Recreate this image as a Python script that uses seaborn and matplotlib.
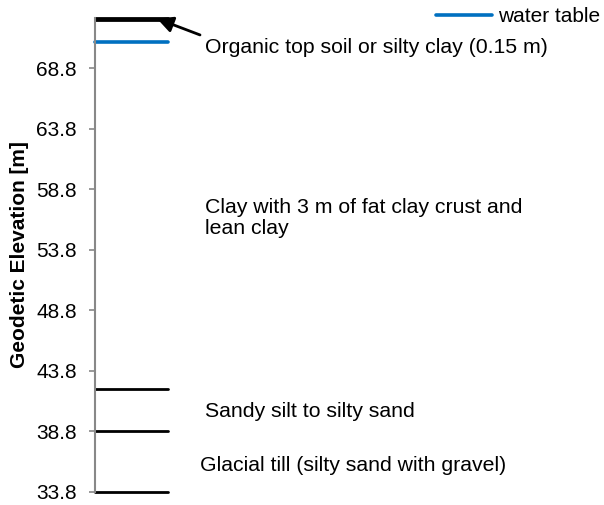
import pandas as pd
import seaborn as sns
from matplotlib import pyplot as plt

# layer boundaries [m]
boundary_names = ['ground surface', 'base of top soil', 'top of sandy silt', 'top of glacial till', 'bottom']
boundary_elev = [72.95, 72.8, 42.3, 38.8, 33.8]
water_table_elev = 70.95

# layer descriptions and the elevation where each label sits
layer_labels = [
    'Organic top soil or silty clay (0.15 m)',
    'Clay with 3 m of fat clay crust and\nlean clay',
    'Sandy silt to silty sand',
    'Glacial till (silty sand with gravel)',
]
label_elev = [70.5, 56.4, 40.4, 36.0]

ytick_values = [33.8, 38.8, 43.8, 48.8, 53.8, 58.8, 63.8, 68.8]


def make_lines(names, elevs, x0=0.0, x1=0.146):
    """Long-form table: two end points per horizontal boundary line."""
    rows = []
    for name, z in zip(names, elevs):
        rows.append({'name': name, 'x': x0, 'z': z})
        rows.append({'name': name, 'x': x1, 'z': z})
    return pd.DataFrame(rows)


def profile_plot():
    sns.set_style('white')
    plt.rcParams['font.family'] = ['Liberation Sans', 'DejaVu Sans']
    plt.rcParams['text.color'] = 'black'
    plt.rcParams['axes.labelcolor'] = 'black'
    plt.rcParams['ytick.color'] = 'black'

    fig = plt.figure(figsize=(6.04, 5.05), dpi=100)
    ax = fig.add_axes([95 / 604, 13.3 / 505, 500 / 604, 473.7 / 505])

    bounds = make_lines(boundary_names, boundary_elev)
    sns.lineplot(ax=ax, data=bounds, x='x', y='z', units='name', estimator=None,
                 color='black', linewidth=2.0, legend=False, clip_on=False)

    wt = make_lines(['water table'], [water_table_elev])
    sns.lineplot(ax=ax, data=wt, x='x', y='z', color='#0070C0', linewidth=2.6,
                 label='water table', clip_on=False)

    # layer descriptions
    xs = [0.22, 0.22, 0.22, 0.21]
    for x, z, txt in zip(xs, label_elev, layer_labels):
        ax.text(x, z, txt, fontsize=15.3, va='center', ha='left', linespacing=1.15,
                color='black')

    # arrow pointing at the thin top soil layer
    ax.annotate('', xy=(0.124, 72.9), xytext=(0.21, 71.55),
                arrowprops=dict(arrowstyle='-|>', color='black', lw=2,
                                mutation_scale=24, shrinkA=0, shrinkB=0))

    ax.set_xlim(0, 1)
    ax.set_ylim(33.8, 72.95)
    ax.set_yticks(ytick_values)
    ax.set_yticklabels([f'{v:.1f}' for v in ytick_values])
    ax.set_xticks([])
    ax.set_xlabel('')
    ax.set_ylabel('Geodetic Elevation [m]', fontsize=15, fontweight='bold', labelpad=5)

    for side in ['top', 'right', 'bottom']:
        ax.spines[side].set_visible(False)
    ax.spines['left'].set_color('#888888')
    ax.spines['left'].set_linewidth(1.5)
    ax.tick_params(axis='y', direction='out', length=4, width=1.2, color='#888888',
                   labelcolor='black', labelsize=15, pad=9, left=True)

    ax.get_legend().remove()
    handles, labels = ax.get_legend_handles_labels()
    fig.legend(handles, labels, loc='upper right', bbox_to_anchor=(1.025, 1.023),
               frameon=False, fontsize=15, handlelength=2.7, handletextpad=0.3)

    fig.savefig('out.png', dpi=100)


if __name__ == '__main__':
    profile_plot()
